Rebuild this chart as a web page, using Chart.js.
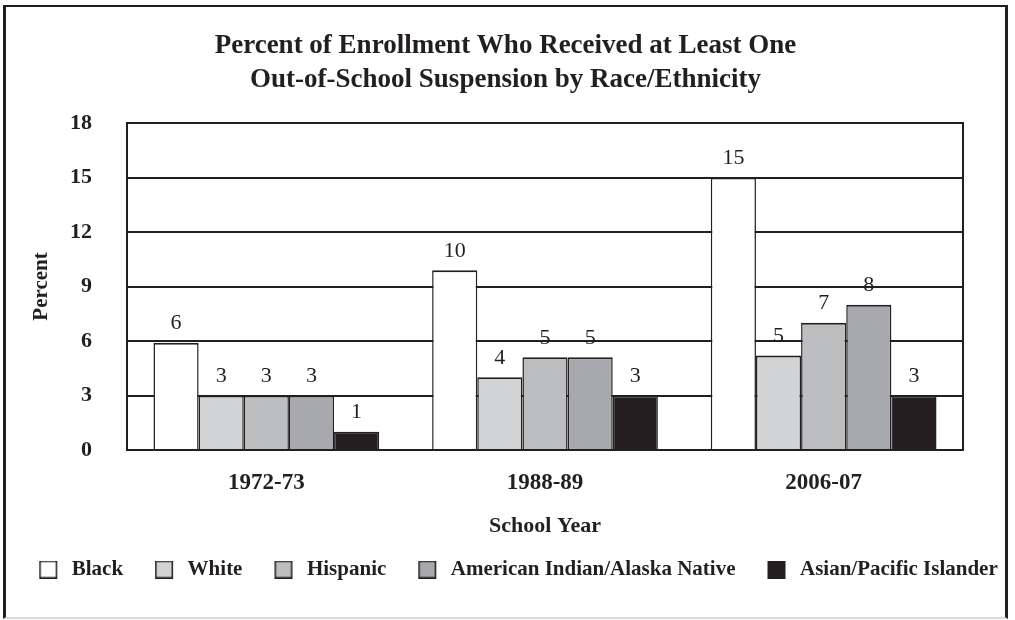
<!DOCTYPE html>
<html><head><meta charset="utf-8">
<script src="https://cdn.jsdelivr.net/npm/chart.js@4"></script>
<style>
html,body{margin:0;padding:0;background:#fff;}
#frame{position:absolute;left:3px;top:5px;width:999px;height:610px;border-left:3px solid #231f20;border-right:3px solid #231f20;border-top:2px solid #231f20;border-bottom:2px solid #d9d9d9;}
#c{display:block;}
</style></head><body>
<div id="frame"><canvas id="c" width="999" height="610"></canvas></div>
<script>
// ---- data ----
const categories = ['1972-73', '1988-89', '2006-07'];
const seriesNames = ['Black', 'White', 'Hispanic', 'American Indian/Alaska Native', 'Asian/Pacific Islander'];
const black    = [5.9, 9.9, 15.0];
const white    = [3.0, 4.0, 5.2];
const hispanic = [3.0, 5.1, 7.0];
const aian     = [3.0, 5.1, 8.0];
const asian    = [1.0, 3.0, 3.0];
const yTicks = [0, 3, 6, 9, 12, 15, 18];
const titleLines = ['Percent of Enrollment Who Received at Least One', 'Out-of-School Suspension by Race/Ethnicity'];

// ---- styles ----
const INK = '#231f20';
const FAMILY = '"Liberation Serif", "Times New Roman", serif';
const fills = ['#ffffff', '#d1d3d4', '#bcbec0', '#a7a9ac', '#231f20'];
const seriesData = [black, white, hispanic, aian, asian];

const ICON_W = 48;
function makeIcon(fill) {
  const c = document.createElement('canvas');
  c.width = ICON_W; c.height = 18;
  const g = c.getContext('2d');
  g.fillStyle = fill;
  g.fillRect(26, 0, 18, 18);
  g.strokeStyle = INK;
  g.lineWidth = 1.5;
  g.strokeRect(26.75, 0.75, 16.5, 16.5);
  return c;
}
const legendIcons = fills.map(makeIcon);

const valueLabels = {
  id: 'valueLabels',
  afterDatasetsDraw(chart) {
    const ctx = chart.ctx;
    ctx.save();
    ctx.font = '22px ' + FAMILY;
    ctx.fillStyle = INK;
    ctx.textAlign = 'center';
    ctx.textBaseline = 'alphabetic';
    chart.data.datasets.forEach((ds, i) => {
      chart.getDatasetMeta(i).data.forEach((bar, j) => {
        ctx.fillText(String(Math.round(ds.data[j])), bar.x, bar.y - 13.5);
      });
    });
    ctx.restore();
  }
};

const datasets = seriesNames.map((name, i) => ({
  label: name,
  data: seriesData[i],
  backgroundColor: fills[i],
  borderColor: INK,
  borderWidth: {top: 2, left: 1.5, right: 1.5, bottom: 0},
  borderSkipped: 'start',
  categoryPercentage: 0.81,
  barPercentage: 1.0
}));

new Chart(document.getElementById('c'), {
  type: 'bar',
  data: { labels: categories, datasets },
  plugins: [valueLabels],
  options: {
    responsive: false,
    animation: false,
    events: [],
    layout: { padding: { left: 0, right: 0, top: 0, bottom: 27 } },
    plugins: {
      tooltip: { enabled: false },
      title: {
        display: true,
        text: titleLines,
        color: INK,
        font: { family: FAMILY, size: 27, weight: 'bold', lineHeight: '34px' },
        padding: { top: 22, bottom: 26 }
      },
      legend: {
        position: 'bottom',
        labels: {
          usePointStyle: true,
          pointStyleWidth: ICON_W,
          padding: 6,
          color: INK,
          font: { family: FAMILY, size: 21, weight: 'bold' },
          generateLabels(chart) {
            const items = Chart.defaults.plugins.legend.labels.generateLabels(chart);
            items.forEach((it, i) => { it.pointStyle = legendIcons[i]; });
            return items;
          }
        }
      }
    },
    scales: {
      x: {
        grid: { display: false, drawTicks: false },
        border: { display: false },
        ticks: { color: INK, font: { family: FAMILY, size: 23, weight: 'bold' }, padding: 19 },
        title: { display: true, text: 'School Year', color: INK, font: { family: FAMILY, size: 22, weight: 'bold' }, padding: { top: 0, bottom: 13 } },
        afterFit(s) { s.height = 103; }
      },
      y: {
        min: yTicks[0], max: yTicks[yTicks.length - 1],
        afterBuildTicks(s) { s.ticks = yTicks.map(v => ({ value: v })); },
        grid: { color: INK, lineWidth: 2, drawTicks: false },
        border: { display: true, color: INK, width: 2 },
        ticks: { color: INK, font: { family: FAMILY, size: 22, weight: 'bold' }, padding: 35 },
        title: { display: true, text: 'Percent', color: INK, font: { family: FAMILY, size: 21, weight: 'bold' }, padding: { top: 23, bottom: 0 } },
        afterFit(s) { s.width = 121; }
      },
      y2: {
        position: 'right',
        min: yTicks[0], max: yTicks[yTicks.length - 1],
        grid: { display: false, drawTicks: false },
        ticks: { display: false },
        border: { display: true, color: INK, width: 2 },
        afterFit(s) { s.width = 42; }
      }
    }
  }
});
</script>
</body></html>
